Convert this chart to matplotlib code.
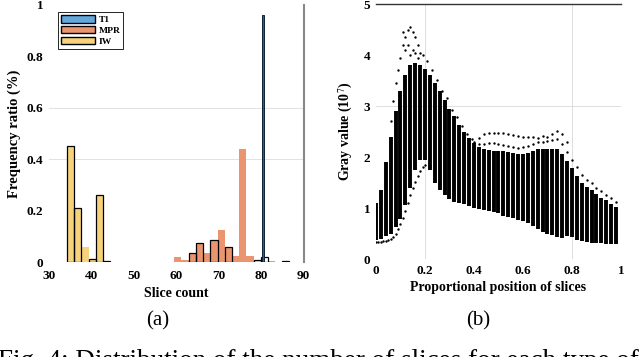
import matplotlib
matplotlib.use('Agg')
import matplotlib.pyplot as plt
from matplotlib.patches import Patch

plt.rcParams['font.family'] = ['Liberation Serif', 'DejaVu Serif']
plt.rcParams['mathtext.fontset'] = 'stix'

# ---------------- data (a): slice count histogram ----------------
bin_width = 1.7
iw_left = [34.2, 35.9, 37.6, 39.3, 41.0, 42.7]
iw_height = [0.45, 0.21, 0.06, 0.012, 0.26, 0.0]
mpr_left = [59.5, 61.2, 62.9, 64.6, 66.3, 68.0, 69.7, 71.4, 73.1, 74.8, 76.5, 81.6]
mpr_height = [0.02, 0.008, 0.036, 0.075, 0.034, 0.084, 0.123, 0.058, 0.022, 0.44, 0.022, 0.003]
t1_left = [80.05]
t1_height = [0.96]
edge_left = [34.2, 35.9, 39.3, 41.0, 42.7, 62.9, 64.6, 68.0, 71.4, 78.2, 79.9, 84.9]
edge_height = [0.45, 0.21, 0.012, 0.26, 0.003, 0.036, 0.075, 0.084, 0.058, 0.008, 0.02, 0.003]

# ---------------- data (b): gray value per slice position ----------------
pos = [0.00, 0.02, 0.04, 0.06, 0.08, 0.10, 0.12, 0.14, 0.16, 0.18,
       0.20, 0.22, 0.24, 0.26, 0.28, 0.30, 0.32, 0.34, 0.36, 0.38,
       0.40, 0.42, 0.44, 0.46, 0.48, 0.50, 0.52, 0.54, 0.56, 0.58,
       0.60, 0.62, 0.64, 0.66, 0.68, 0.70, 0.72, 0.74, 0.76, 0.78,
       0.80, 0.82, 0.84, 0.86, 0.88, 0.90, 0.92, 0.94, 0.96, 0.98]
band_hi = [1.10, 1.35, 1.90, 2.40, 2.90, 3.30, 3.60, 3.80, 3.85, 3.80,
           3.72, 3.60, 3.45, 3.30, 3.12, 2.95, 2.80, 2.62, 2.50, 2.38,
           2.28, 2.20, 2.15, 2.13, 2.12, 2.12, 2.12, 2.10, 2.08, 2.05,
           2.05, 2.08, 2.12, 2.15, 2.15, 2.15, 2.15, 2.15, 2.05, 1.92,
           1.78, 1.62, 1.50, 1.42, 1.35, 1.28, 1.20, 1.15, 1.08, 1.02]
band_lo = [0.38, 0.40, 0.45, 0.50, 0.62, 0.78, 1.05, 1.40, 1.75, 1.95,
           1.95, 1.75, 1.50, 1.35, 1.25, 1.18, 1.12, 1.10, 1.07, 1.04,
           1.00, 0.98, 0.96, 0.94, 0.93, 0.90, 0.85, 0.82, 0.80, 0.77,
           0.74, 0.70, 0.64, 0.58, 0.53, 0.50, 0.47, 0.43, 0.42, 0.45,
           0.43, 0.38, 0.35, 0.33, 0.32, 0.31, 0.31, 0.30, 0.30, 0.30]

# scattered outlier slices
top_x = [0.06, 0.07, 0.08, 0.09, 0.10, 0.11, 0.11, 0.12, 0.12, 0.13, 0.13, 0.14, 0.14,
         0.15, 0.15, 0.16, 0.16, 0.17, 0.17, 0.18, 0.19, 0.21, 0.23, 0.25, 0.27,
         0.29, 0.31, 0.33, 0.35, 0.37, 0.39]
top_y = [2.70, 3.10, 3.45, 3.70, 3.95, 4.20, 4.45, 4.35, 4.10, 4.50, 4.20, 4.55, 4.00,
         4.45, 4.10, 4.35, 4.05, 4.20, 3.95, 4.05, 4.00, 3.88, 3.70, 3.52, 3.30,
         3.15, 2.92, 2.78, 2.60, 2.45, 2.35]
curve_a_x = [0.40, 0.42, 0.44, 0.46, 0.48, 0.50, 0.52, 0.54, 0.56, 0.58,
             0.60, 0.62, 0.64, 0.66, 0.68, 0.70, 0.72, 0.74, 0.76, 0.78]
curve_a_y = [2.30, 2.38, 2.45, 2.47, 2.48, 2.48, 2.47, 2.45, 2.43, 2.42,
             2.40, 2.40, 2.40, 2.38, 2.42, 2.40, 2.45, 2.52, 2.45, 2.30]
curve_b_x = [0.42, 0.44, 0.46, 0.48, 0.50, 0.52, 0.54, 0.56, 0.58, 0.60,
             0.62, 0.64, 0.66, 0.68, 0.70, 0.72, 0.74, 0.76, 0.78, 0.80,
             0.82, 0.84, 0.86, 0.88, 0.90, 0.92, 0.94, 0.96, 0.98]
curve_b_y = [2.25, 2.25, 2.27, 2.27, 2.25, 2.24, 2.22, 2.20, 2.18, 2.20,
             2.22, 2.25, 2.30, 2.30, 2.32, 2.33, 2.35, 2.25, 2.10, 1.95,
             1.80, 1.65, 1.55, 1.50, 1.40, 1.33, 1.25, 1.20, 1.12]
low_x = [0.00, 0.01, 0.02, 0.03, 0.04, 0.05, 0.06, 0.07, 0.08, 0.09, 0.10,
         0.11, 0.12, 0.13, 0.14, 0.15, 0.16, 0.17, 0.18, 0.19, 0.20]
low_y = [0.33, 0.33, 0.34, 0.35, 0.36, 0.38, 0.40, 0.44, 0.50, 0.58, 0.68,
         0.80, 0.95, 1.10, 1.25, 1.40, 1.52, 1.63, 1.72, 1.80, 1.85]

c_t1 = '#62A8DD'
c_mpr = '#EA9470'
c_iw = '#F5D27B'

fig = plt.figure(figsize=(6.4, 3.57), dpi=100)

# ---------------- (a) ----------------
ax1 = fig.add_axes([0.0766, 0.2661, 0.398, 0.72])
ax1.axhline(0.4, color='#dddddd', lw=0.6, zorder=0)
ax1.axhline(0.6, color='#dddddd', lw=0.6, zorder=0)
ax1.bar(iw_left, iw_height, width=bin_width, align='edge', color=c_iw, zorder=2)
ax1.bar(mpr_left, mpr_height, width=bin_width, align='edge', color=c_mpr, zorder=2)
ax1.bar(edge_left, edge_height, width=bin_width, align='edge', facecolor='none',
        edgecolor='black', lw=0.9, zorder=3)
ax1.bar(t1_left, t1_height, width=0.55, align='edge', color='#2a5f8f',
        edgecolor='#0b2238', lw=0.7, zorder=4)
ax1.set_xlim(30, 90)
ax1.set_ylim(0, 1)
ax1.set_xticks([30, 40, 50, 60, 70, 80, 90])
ax1.set_yticks([0, 0.2, 0.4, 0.6, 0.8, 1])
ax1.set_yticklabels(['0', '0.2', '0.4', '0.6', '0.8', '1'])
for s in ['left', 'top', 'bottom']:
    ax1.spines[s].set_visible(False)
ax1.spines['right'].set_color('#888888')
ax1.spines['right'].set_linewidth(1.5)
ax1.tick_params(axis='x', length=0, labelsize=9.5, pad=6)
ax1.tick_params(axis='y', length=0, labelsize=9.5, pad=4)
for lab in ax1.get_xticklabels() + ax1.get_yticklabels():
    lab.set_fontweight('bold')
ax1.set_xlabel('Slice count', fontsize=10, fontweight='bold', labelpad=3)
ax1.set_ylabel('Frequency ratio (%)', fontsize=10.5, fontweight='bold', labelpad=4)
handles = [Patch(facecolor=c_t1, edgecolor='black', lw=1.0, label='T1'),
           Patch(facecolor=c_mpr, edgecolor='black', lw=1.0, label='MPR'),
           Patch(facecolor=c_iw, edgecolor='black', lw=1.0, label='IW')]
leg = ax1.legend(handles=handles, loc='upper left', bbox_to_anchor=(0.035, 0.972),
                 fancybox=False, edgecolor='black', framealpha=1, handlelength=3.6,
                 handleheight=0.85, handletextpad=0.4, labelspacing=0.2, borderpad=0.3,
                 borderaxespad=0, prop={'size': 6.8, 'weight': 'bold'})
leg.get_frame().set_linewidth(0.6)

# ---------------- (b) ----------------
ax2 = fig.add_axes([0.5875, 0.2745, 0.3828, 0.714])
ax2.axvline(0.2, color='#d8d8d8', lw=0.6, zorder=0)
ax2.axvline(0.8, color='#d8d8d8', lw=0.6, zorder=0)
ax2.axhline(3, color='#d8d8d8', lw=0.6, zorder=0)
bands = ax2.vlines(pos, band_lo, band_hi, color='black', lw=2.8, zorder=2)
bands.set_capstyle('butt')
ax2.scatter(top_x, top_y, s=3, color='black', lw=0, zorder=3)
ax2.scatter(curve_a_x, curve_a_y, s=3, color='black', lw=0, zorder=3)
ax2.scatter(curve_b_x, curve_b_y, s=3, color='black', lw=0, zorder=3)
ax2.scatter(low_x, low_y, s=3, color='black', lw=0, zorder=3)
ax2.set_xlim(0, 1)
ax2.set_ylim(0, 5)
ax2.set_xticks([0, 0.2, 0.4, 0.6, 0.8, 1])
ax2.set_xticklabels(['0', '0.2', '0.4', '0.6', '0.8', '1'])
ax2.set_yticks([0, 1, 2, 3, 4, 5])
for s in ['left', 'right', 'bottom']:
    ax2.spines[s].set_visible(False)
ax2.spines['top'].set_color('#333333')
ax2.spines['top'].set_linewidth(1.0)
ax2.tick_params(length=0, labelsize=9.5, pad=4)
for lab in ax2.get_xticklabels() + ax2.get_yticklabels():
    lab.set_fontweight('bold')
ax2.set_xlabel('Proportional position of slices', fontsize=10, fontweight='bold', labelpad=3)
ax2.set_ylabel('Gray value (10$^7$)', fontsize=10, fontweight='bold', labelpad=6)

# sub captions and figure caption
fig.text(0.247, 0.100, '(a)', fontsize=15, ha='center', va='center')
fig.text(0.747, 0.100, '(b)', fontsize=15, ha='center', va='center')
fig.text(-0.003, 0.022, 'Fig. 4: Distribution of the number of slices for each type of',
         fontsize=19.5, ha='left', va='top')

fig.savefig('out.png', dpi=100)
